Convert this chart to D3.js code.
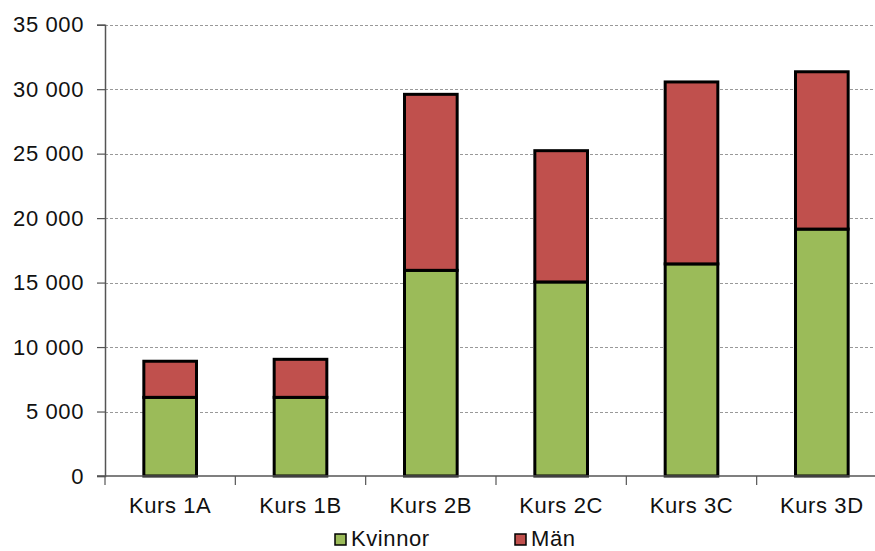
<!DOCTYPE html>
<html>
<head>
<meta charset="utf-8">
<script src="https://cdn.jsdelivr.net/npm/d3@7"></script>
<style>
  body { margin: 0; background: #fff; }
  svg { display: block; font-family: "Liberation Sans", Arial, sans-serif; }
</style>
</head>
<body>
<div id="chart-area"></div>
<script>
// data
const courses = ["Kurs 1A", "Kurs 1B", "Kurs 2B", "Kurs 2C", "Kurs 3C", "Kurs 3D"]
const kvinnor = [6100, 6100, 15950, 15050, 16450, 19150]
const man = [2800, 2950, 13650, 10180, 14110, 12200]
const yTicks = [0, 5000, 10000, 15000, 20000, 25000, 30000, 35000]
const seriesNames = ["Kvinnor", "Män"]
const seriesColors = ["#9bbb59", "#c0504d"]

const svgWidth = 875
const svgHeight = 551
// plot area runs a little past the right edge of the picture
const margin = { left: 105, right: -12, top: 24.7, bottom: 75 }
const fontSize = 22

const svg = d3.select("#chart-area")
  .append("svg")
  .attr("width", svgWidth)
  .attr("height", svgHeight)

const rows = courses.map((c, i) => ({ course: c, Kvinnor: kvinnor[i], "Män": man[i] }))
const stacked = d3.stack().keys(seriesNames)(rows)

const xScale = d3.scaleBand()
  .domain(courses)
  .range([margin.left, svgWidth - margin.right])
  .paddingInner(0.596)
  .paddingOuter(0.298)

const yScale = d3.scaleLinear()
  .domain([0, 35000])
  .range([svgHeight - margin.bottom, margin.top])

const fmt = v => d3.format(",")(v).replace(/,/g, " ")

// gridlines
svg.append("g")
  .selectAll("line")
  .data(yTicks.filter(d => d > 0))
  .join("line")
  .attr("x1", margin.left)
  .attr("x2", svgWidth)
  .attr("y1", d => Math.round(yScale(d)) + 0.5)
  .attr("y2", d => Math.round(yScale(d)) + 0.5)
  .attr("stroke", "#999")
  .attr("stroke-width", 1)
  .attr("stroke-dasharray", "3,2")

// y axis
const yAxis = svg.append("g")
  .attr("transform", `translate(${margin.left},0)`)
  .call(d3.axisLeft(yScale).tickValues(yTicks).tickFormat(fmt).tickSize(8).tickPadding(13))
yAxis.attr("font-size", fontSize).attr("font-family", "Liberation Sans, Arial, sans-serif")
yAxis.select(".domain").attr("stroke", "#555").attr("stroke-width", 1.5)
yAxis.selectAll(".tick line").attr("stroke", "#555").attr("stroke-width", 1.2)
yAxis.selectAll("text").attr("fill", "#111").attr("letter-spacing", 0.6)

// bars
svg.append("g")
  .selectAll("g")
  .data(stacked)
  .join("g")
  .attr("fill", (d, i) => seriesColors[i])
  .selectAll("rect")
  .data(d => d)
  .join("rect")
  .attr("x", d => xScale(d.data.course))
  .attr("width", xScale.bandwidth())
  .attr("y", d => yScale(d[1]))
  .attr("height", d => yScale(d[0]) - yScale(d[1]))
  .attr("stroke", "#000")
  .attr("stroke-width", 3)

// x axis
const baseY = yScale(0)
svg.append("line")
  .attr("x1", margin.left - 8)
  .attr("x2", svgWidth)
  .attr("y1", baseY)
  .attr("y2", baseY)
  .attr("stroke", "#555")
  .attr("stroke-width", 1.5)

const step = xScale.step()
const bounds = d3.range(courses.length + 1).map(i => margin.left + i * step)
svg.append("g")
  .selectAll("line")
  .data(bounds)
  .join("line")
  .attr("x1", d => d)
  .attr("x2", d => d)
  .attr("y1", baseY)
  .attr("y2", baseY + 9)
  .attr("stroke", "#555")
  .attr("stroke-width", 1.2)

svg.append("g")
  .selectAll("text")
  .data(courses)
  .join("text")
  .attr("x", d => xScale(d) + xScale.bandwidth() / 2)
  .attr("y", 513)
  .attr("text-anchor", "middle")
  .attr("font-size", fontSize)
  .attr("letter-spacing", 0.6)
  .attr("fill", "#111")
  .text(d => d)

// legend
const legendX = [335, 515]
const legend = svg.append("g")
  .selectAll("g")
  .data(seriesNames)
  .join("g")
  .attr("transform", (d, i) => `translate(${legendX[i]},534)`)
legend.append("rect")
  .attr("width", 11)
  .attr("height", 11)
  .attr("fill", (d, i) => seriesColors[i])
  .attr("stroke", "#000")
  .attr("stroke-width", 1.5)
legend.append("text")
  .attr("x", 16)
  .attr("y", 12)
  .attr("font-size", fontSize)
  .attr("letter-spacing", 0.6)
  .attr("fill", "#111")
  .text(d => d)
</script>
</body>
</html>
